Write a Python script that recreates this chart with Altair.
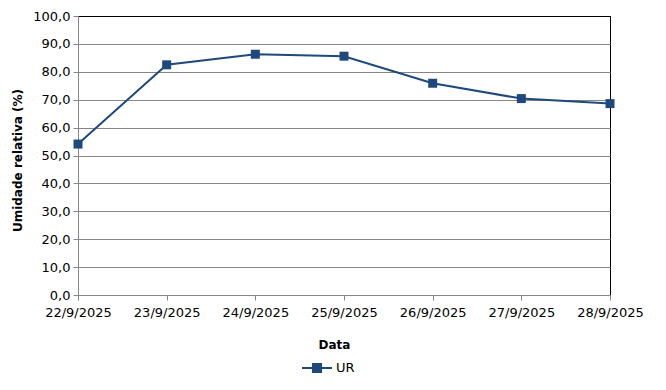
import altair as alt
import pandas as pd

dates = ["22/9/2025", "23/9/2025", "24/9/2025", "25/9/2025", "26/9/2025", "27/9/2025", "28/9/2025"]
ur = [54.1, 82.5, 86.3, 85.6, 75.9, 70.4, 68.6]
series = ["UR"] * len(dates)

df = pd.DataFrame({"Data": dates, "UR": ur, "Série": series})

COLOR = "#1F497D"
FONT = "DejaVu Sans"

x = alt.X("Data:N", sort=dates, scale=alt.Scale(type="point", padding=0),
          axis=alt.Axis(title="Data", labelAngle=0, grid=False, ticks=True, tickSize=5,
                        tickColor="#868686", domainColor="#868686", labelPadding=6,
                        titlePadding=20, titleX=256, titleAlign="center"))
y = alt.Y("UR:Q", scale=alt.Scale(domain=[0, 100], nice=False),
          axis=alt.Axis(title="Umidade relativa (%)", values=list(range(0, 101, 10)),
                        format=".1f", labelExpr="replace(datum.label, '.', ',')",
                        gridColor={"condition": {"test": "datum.value == 100", "value": "#000000"},
                                   "value": "#868686"},
                        domainColor="#868686", tickColor="#868686",
                        tickSize=5, labelPadding=3, titlePadding=8, titleY=144,
                        titleFontSize=12))

color = alt.Color("Série:N", scale=alt.Scale(range=[COLOR]),
                  legend=alt.Legend(title=None, orient="none", legendX=223, legendY=336,
                                    symbolType="M-1,0L1,0M-0.27,-0.27L0.27,-0.27L0.27,0.27L-0.27,0.27Z",
                                    symbolSize=900, symbolStrokeWidth=2, symbolFillColor=COLOR,
                                    symbolStrokeColor=COLOR, labelFontSize=13, labelFont=FONT,
                                    labelColor="#000000", labelOffset=3))

base = alt.Chart(df)
line = base.mark_line(strokeWidth=2, color=COLOR).encode(x=x, y=y, color=color)
pts = base.mark_square(size=81, opacity=1, filled=True, color=COLOR).encode(x=x, y=y, color=color)

chart = (line + pts).properties(
    width=532, height=279,
    background="white",
    autosize=alt.AutoSizeParams(type="none"),
    padding={"left": 70, "top": 8, "right": 48, "bottom": 87},
).configure_view(stroke="#000000", strokeWidth=1).configure_axis(
    labelFont=FONT, labelFontSize=13, labelColor="#000000",
    titleFont=FONT, titleFontSize=12, titleFontWeight="bold", titleColor="#000000",
)

chart.save("out.html", embed_options={"renderer": "svg", "actions": False})
